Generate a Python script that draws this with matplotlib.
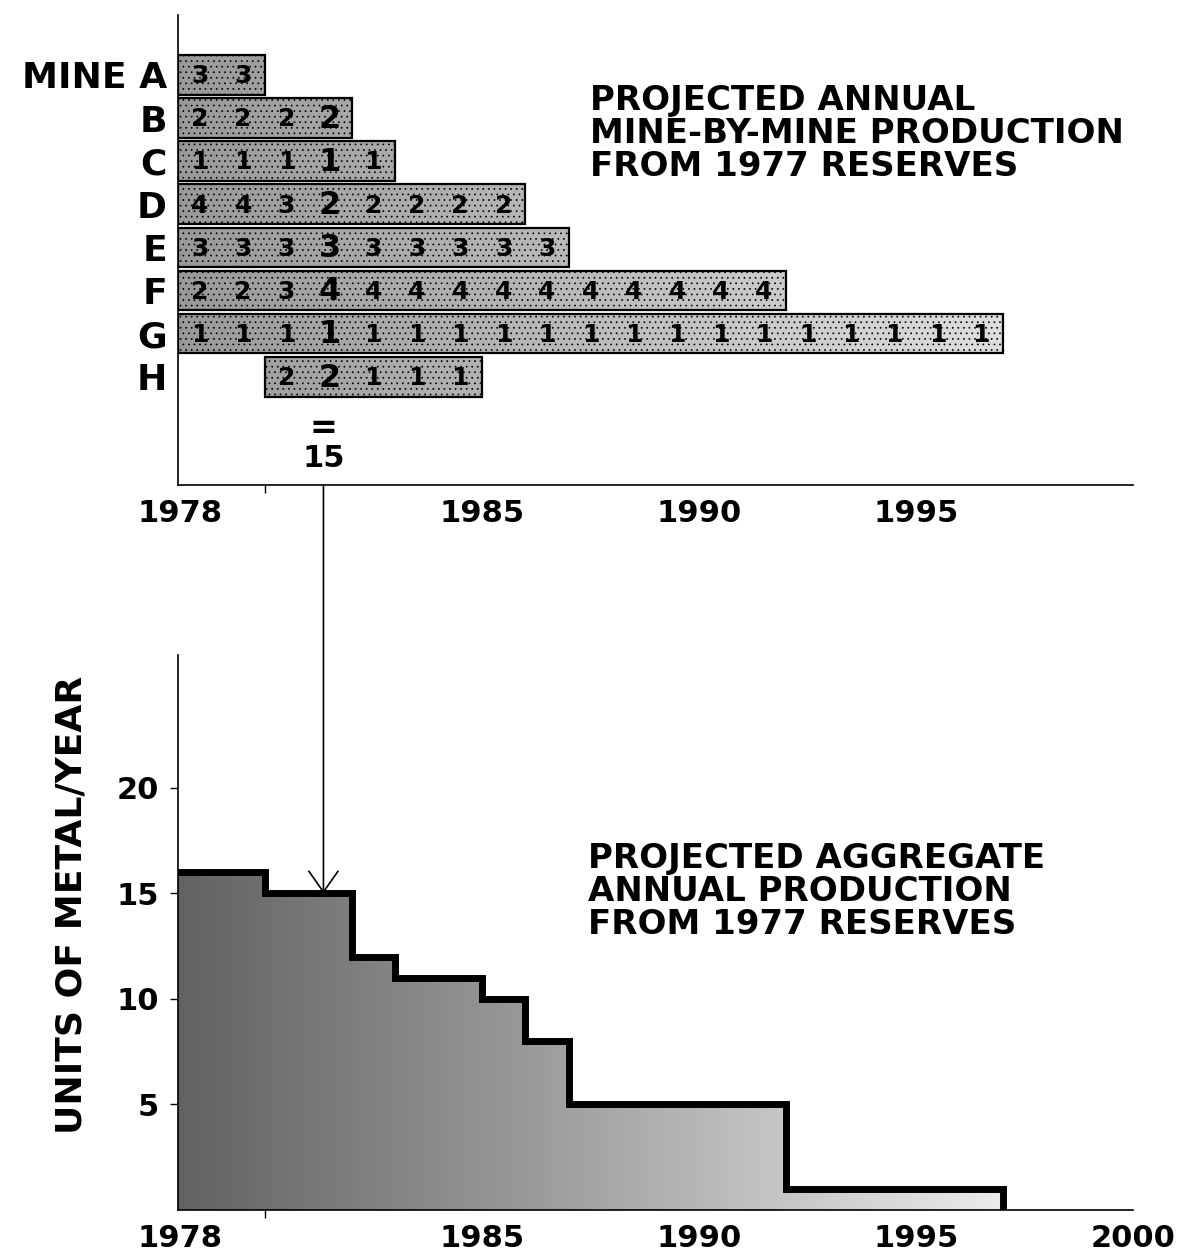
import numpy as np
import matplotlib.pyplot as plt
from matplotlib.colors import LinearSegmentedColormap
from matplotlib.patches import ConnectionPatch

plt.rcParams['font.family'] = 'DejaVu Sans'
plt.rcParams['font.weight'] = 'bold'
plt.rcParams['hatch.linewidth'] = 0.5
plt.rcParams['hatch.color'] = '#222222'

# mine-by-mine annual output (units of metal/year), starting year of each mine
mines = ['MINE A', 'B', 'C', 'D', 'E', 'F', 'G', 'H']
start_years = [1978, 1978, 1978, 1978, 1978, 1978, 1978, 1980]
mine_a = [3, 3]
mine_b = [2, 2, 2, 2]
mine_c = [1, 1, 1, 1, 1]
mine_d = [4, 4, 3, 2, 2, 2, 2, 2]
mine_e = [3, 3, 3, 3, 3, 3, 3, 3, 3]
mine_f = [2, 2, 3, 4, 4, 4, 4, 4, 4, 4, 4, 4, 4, 4]
mine_g = [1, 1, 1, 1, 1, 1, 1, 1, 1, 1, 1, 1, 1, 1, 1, 1, 1, 1, 1]
mine_h = [2, 2, 1, 1, 1]
output = [mine_a, mine_b, mine_c, mine_d, mine_e, mine_f, mine_g, mine_h]

highlight_year = 1981

top_labels = ['1978', '1985', '1990', '1995']
top_label_pos = [1978.05, 1985, 1990, 1995]
top_ticks = [1980, 1990, 1995]
bot_labels = ['1978', '1985', '1990', '1995', '2000']
bot_label_pos = [1978.05, 1985, 1990, 1995, 2000]
bot_ticks = [1980, 1990, 1995, 2000]
y_ticks = [5, 10, 15, 20]

# aggregate = sum over mines for each year
years = np.arange(1978, 1998)
total = np.zeros(len(years), dtype=int)
for s, vals in zip(start_years, output):
    for k, v in enumerate(vals):
        total[s + k - 1978] += v
hl_total = total[highlight_year - 1978]

fig = plt.figure(figsize=(11.82, 12.57), dpi=100)
ax1 = fig.add_axes([0.1506, 0.6142, 0.808, 0.3739])
ax2 = fig.add_axes([0.1506, 0.0374, 0.808, 0.4415])

bar_cmap = LinearSegmentedColormap.from_list('bar', ['#999999', '#e2e2e2'])
fill_cmap = LinearSegmentedColormap.from_list('fill', ['#626262', '#a4a4a4', '#ececec'])
grad = np.linspace(0, 1, 256).reshape(1, -1)

# top panel
rows = np.arange(len(mines))
for i, (s, vals) in enumerate(zip(start_years, output)):
    bar = ax1.barh(i, len(vals), left=s, height=0.92, facecolor='none',
                   edgecolor='black', linewidth=1.6, hatch='...', zorder=2)[0]
    im = ax1.imshow(grad, extent=(1978, 1998, -1, 8), aspect='auto',
                    cmap=bar_cmap, zorder=1)
    im.set_clip_path(bar)
    for k, v in enumerate(vals):
        yr = s + k
        big = yr == highlight_year
        ax1.text(yr + 0.5, i + 0.03, str(v), ha='center', va='center',
                 fontsize=23 if big else 18, fontweight='bold', zorder=3)

ax1.text(highlight_year + 0.35, 8.2, '=', ha='center', va='center',
         fontsize=24, fontweight='bold')
ax1.text(highlight_year + 0.35, 8.9, str(hl_total), ha='center', va='center',
         fontsize=22, fontweight='bold')

ax1.set_xlim(1978, 2000)
ax1.set_ylim(9.51, -1.39)
ax1.set_yticks(rows)
ax1.set_yticklabels(mines, fontsize=26, fontweight='bold')
ax1.tick_params(axis='y', length=0, pad=8)
ax1.set_xticks(top_label_pos)
ax1.set_xticklabels(top_labels, fontsize=22, fontweight='bold')
ax1.set_xticks(top_ticks, minor=True)
ax1.tick_params(axis='x', which='major', length=0, pad=10)
ax1.tick_params(axis='x', which='minor', length=6, width=1, direction='out')
for sp in ['top', 'right']:
    ax1.spines[sp].set_visible(False)
for sp in ['left', 'bottom']:
    ax1.spines[sp].set_linewidth(1.2)

fig.text(590 / 1182, 1 - 84 / 1257,
         'PROJECTED ANNUAL\nMINE-BY-MINE PRODUCTION\nFROM 1977 RESERVES',
         ha='left', va='top', fontsize=24.5, fontweight='bold', linespacing=1.0)

# bottom panel
edges = np.append(years, years[-1] + 1)
poly = ax2.fill_between(edges, np.append(total, 0), step='post',
                        facecolor='none', edgecolor='none')
im2 = ax2.imshow(grad, extent=(1978, 1997, 0, 17), aspect='auto',
                 cmap=fill_cmap, zorder=1)
im2.set_clip_path(poly.get_paths()[0], transform=ax2.transData)
ax2.step(years, total, where='post', color='black',
         linewidth=5, solid_joinstyle='miter', zorder=3)

ax2.set_xlim(1978, 2000)
ax2.set_ylim(0, 26.3)
ax2.set_yticks(y_ticks)
ax2.set_yticklabels([str(v) for v in y_ticks], fontsize=22, fontweight='bold')
ax2.tick_params(axis='y', length=6, width=1, pad=8)
ax2.set_xticks(bot_label_pos)
ax2.set_xticklabels(bot_labels, fontsize=22, fontweight='bold')
ax2.set_xticks(bot_ticks, minor=True)
ax2.tick_params(axis='x', which='major', length=0, pad=10)
ax2.tick_params(axis='x', which='minor', length=6, width=1, direction='out')
for sp in ['top', 'right']:
    ax2.spines[sp].set_visible(False)
for sp in ['left', 'bottom']:
    ax2.spines[sp].set_linewidth(1.2)

fig.text(72 / 1182, 1 - 905 / 1257, 'UNITS OF METAL/YEAR', rotation=90,
         ha='center', va='center', fontsize=26, fontweight='bold')
fig.text(588 / 1182, 1 - 842 / 1257,
         'PROJECTED AGGREGATE\nANNUAL PRODUCTION\nFROM 1977 RESERVES',
         ha='left', va='top', fontsize=24.5, fontweight='bold', linespacing=1.0)

# arrow from the 1981 column down to the aggregate curve
arrow_x = highlight_year + 0.35
con = ConnectionPatch(xyA=(arrow_x, 0), coordsA=ax1.get_xaxis_transform(),
                      xyB=(arrow_x, hl_total), coordsB=ax2.transData,
                      arrowstyle='->,head_length=0.5,head_width=0.35',
                      mutation_scale=30, linewidth=1.2, color='black', zorder=5)
fig.add_artist(con)

fig.savefig('out.png', dpi=100)
